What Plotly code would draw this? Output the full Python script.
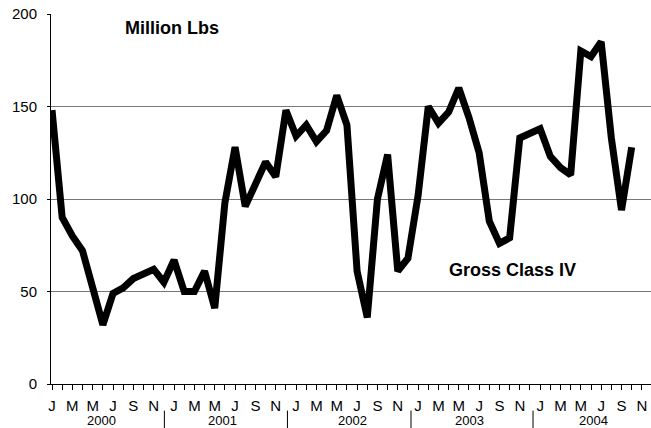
import plotly.graph_objects as go

# monthly values, Jan 2000 .. Oct 2004 (million lbs)
values = [148, 90, 80, 72, 52, 32, 49, 52, 57, 60, 62, 55,
          67, 50, 50, 61, 41, 98, 128, 96, 107, 120, 112, 148,
          134, 140, 131, 137, 156, 140, 61, 36, 100, 124, 61, 68,
          102, 150, 141, 147, 160, 144, 125, 88, 76, 79, 133, 136,
          138, 123, 117, 113, 180, 177, 185, 133, 94, 128]
month_letters = ["J", "F", "M", "A", "M", "J", "J", "A", "S", "O", "N", "D"]
years = ["2000", "2001", "2002", "2003", "2004"]

x = list(range(len(values)))
tick_idx = list(range(59))
tick_text = [month_letters[i % 12] if i % 2 == 0 else "" for i in tick_idx]

fig = go.Figure()
fig.add_trace(go.Scatter(x=x, y=values, mode="lines",
                         line=dict(color="black", width=7),
                         showlegend=False))

font = dict(family="Arial, Liberation Sans, sans-serif", color="black")

annotations = [
    dict(x=11.8, y=192.5, xref="x", yref="y", text="<b>Million Lbs</b>",
         showarrow=False, font=dict(size=18, **font)),
    dict(x=45.3, y=61.5, xref="x", yref="y", text="<b>Gross Class IV</b>",
         showarrow=False, font=dict(size=18, **font)),
]
year_pos = [4.9, 16.8, 29.5, 41.1, 53.2]
for yr, xp in zip(years, year_pos):
    annotations.append(dict(x=xp, y=-0.099, xref="x", yref="paper", text=yr,
                            yanchor="middle", showarrow=False, borderpad=0,
                            font=dict(size=13, **font)))

shapes = []
for xp in [11.05, 23.15, 35.3, 47.3]:
    shapes.append(dict(type="line", xref="x", yref="paper", x0=xp, x1=xp,
                       y0=-0.072, y1=-0.125, line=dict(color="black", width=1)))

fig.update_layout(
    width=651, height=428,
    margin=dict(l=51, r=0, t=14, b=44),
    paper_bgcolor="white", plot_bgcolor="white",
    font=font,
    annotations=annotations,
    shapes=shapes,
    xaxis=dict(range=[-0.1, 58.9], tickmode="array", tickvals=tick_idx,
               ticktext=tick_text, ticks="outside", ticklen=5, tickcolor="black",
               showgrid=False, zeroline=False, showline=True, linecolor="black",
               linewidth=1, tickfont=dict(size=15), ticklabelstandoff=3,
               automargin=False),
    yaxis=dict(range=[0, 200], tickvals=[0, 50, 100, 150, 200],
               ticks="outside", ticklen=3, tickcolor="black",
               showgrid=True, gridcolor="#777", gridwidth=1,
               zeroline=False, showline=True, linecolor="black", linewidth=1,
               tickfont=dict(size=15), ticklabelstandoff=7,
               automargin=False),
)

fig.write_html("out.html", config={"displayModeBar": False},
               post_script="document.body.style.margin='0px';document.body.style.overflow='hidden';")
